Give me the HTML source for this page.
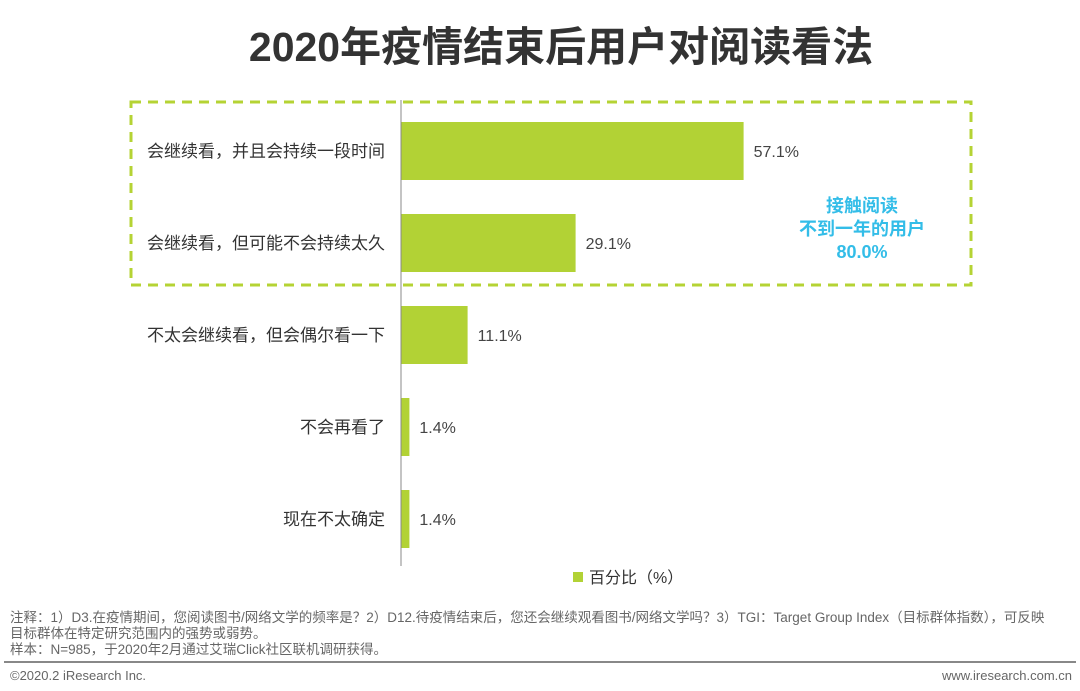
<!DOCTYPE html>
<html><head><meta charset="utf-8"><style>
body{margin:0;width:1080px;height:691px;background:#fff;font-family:"Liberation Sans","Noto Sans CJK SC",sans-serif;overflow:hidden;position:relative}
.t{position:absolute;white-space:nowrap}
</style></head><body>
<div class="t" style="left:0;width:1122px;text-align:center;top:13px;font-size:41px;font-weight:bold;color:#333">2020年疫情结束后用户对阅读看法</div>
<svg id="c" width="1080" height="600" style="position:absolute;left:0;top:0"></svg>
<div class="t" style="left:10px;top:610px;font-size:13.5px;color:#666;line-height:16px">注释：1）D3.在疫情期间，您阅读图书/网络文学的频率是？2）D12.待疫情结束后，您还会继续观看图书/网络文学吗？3）TGI：Target Group Index（目标群体指数），可反映<br>目标群体在特定研究范围内的强势或弱势。<br>样本：N=985，于2020年2月通过艾瑞Click社区联机调研获得。</div>
<div style="position:absolute;left:4px;top:661px;width:1072px;height:2px;background:#888"></div>
<div class="t" style="left:10px;top:668px;font-size:13px;color:#666">©2020.2 iResearch Inc.</div>
<div class="t" style="right:8px;top:668px;font-size:13px;color:#666">www.iresearch.com.cn</div>
<script>
const categories=["会继续看，并且会持续一段时间","会继续看，但可能不会持续太久","不太会继续看，但会偶尔看一下","不会再看了","现在不太确定"];
const values=[57.1,29.1,11.1,1.4,1.4];
const valueLabels=["57.1%","29.1%","11.1%","1.4%","1.4%"];
const ns="http://www.w3.org/2000/svg",svg=document.getElementById('c');
const x0=401,pxPer=6.0,yTop=105,band=92,bh=58;
const xs=v=>x0+v*pxPer, yc=i=>yTop+band*i+band/2;
function mk(t,a){const e=document.createElementNS(ns,t);for(const k in a)e.setAttribute(k,a[k]);svg.appendChild(e);return e;}
let box=mk('rect',{x:131,y:102,width:840,height:183,fill:'none',stroke:'#b5d334','stroke-width':3,'stroke-dasharray':'10 7'});

categories.forEach((c,i)=>{
 const r=mk('rect',{x:x0,y:yc(i)-bh/2,width:xs(values[i])-x0,height:bh,fill:'#b2d235'});
 
 const l=mk('text',{x:x0-16,y:yc(i)+6,'text-anchor':'end','font-size':17,fill:'#333'});l.textContent=c;
 
 const v=mk('text',{x:xs(values[i])+10,y:yc(i)+6,'font-size':16,fill:'#444'});v.textContent=valueLabels[i];
 
});
const ax=mk('line',{x1:x0,y1:100,x2:x0,y2:566,stroke:'#888','stroke-width':1});

["接触阅读","不到一年的用户","80.0%"].forEach((s,i)=>{const t=mk('text',{x:862,y:212+i*23,'text-anchor':'middle','font-size':18,'font-weight':'bold',fill:'#33bde8'});t.textContent=s;
 });
const lg=mk('rect',{x:573,y:572,width:10,height:10,fill:'#b2d235'});

const lt=mk('text',{x:589,y:583,'font-size':16,fill:'#333'});lt.textContent="百分比（%）";

</script>
</body></html>
